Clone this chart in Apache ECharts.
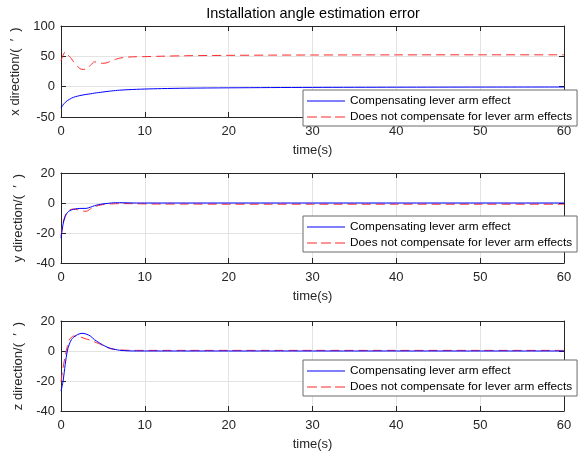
<!DOCTYPE html>
<html>
<head>
<meta charset="utf-8">
<script src="https://cdn.jsdelivr.net/npm/echarts@6/dist/echarts.min.js"></script>
<style>
html,body{margin:0;padding:0;background:#fff;}
#main{width:581px;height:457px;}
</style>
</head>
<body>
<div id="main"></div>
<script>
// time samples (s)
var timeS = [0, 0.25, 0.5, 0.75, 1, 1.25, 1.5, 2, 2.5, 3, 3.5, 4, 4.5, 5, 5.5, 6, 6.5, 7, 8, 9, 10, 12, 15, 20, 25, 30, 40, 50, 60];

// x direction
var xComp   = [-35, -30, -26, -23, -21, -19, -17.5, -15.5, -14, -12.8, -11.8, -10.6, -9.7, -8.8, -7.9, -7.1, -6.4, -5.8, -5.0, -4.4, -3.9, -3.2, -2.5, -1.9, -1.5, -1.2, -0.9, -0.7, -0.6];
var xNoComp = [43, 52, 57, 53, 50, 46, 41, 33, 28.5, 29, 35, 41, 39.5, 38.5, 39.5, 42.5, 45, 47, 48.8, 49.3, 49.5, 50.2, 51, 51.6, 52, 52.2, 52.4, 52.5, 52.5];

// y direction
var yComp   = [-23.5, -14, -9, -6.5, -5.3, -4.6, -4.2, -3.7, -3.6, -3.6, -2.8, -1.8, -1.1, -0.6, -0.3, 0, 0.2, 0.2, 0.1, 0, 0, 0, 0, 0, 0, 0, 0, 0, 0];
var yNoComp = [-22, -13, -8.5, -6, -4.8, -4.2, -4, -4.5, -5.3, -5.5, -4, -2.5, -1.6, -1.1, -0.8, -0.6, -0.5, -0.4, -0.4, -0.5, -0.6, -0.7, -0.7, -0.8, -0.8, -0.8, -0.8, -0.8, -0.8];

// z direction
var zComp   = [-26.7, -20, -9, 0, 4.7, 7.6, 9.2, 11, 11.8, 11.3, 10, 7.5, 5.7, 4, 2.6, 1.6, 1, 0.5, 0.1, 0, 0, 0, 0, 0, 0, 0, 0, 0, 0];
var zNoComp = [-20.5, -11, -3.5, 3, 7.5, 9.2, 10, 9.7, 9, 8, 7.2, 6, 5, 3.6, 2.4, 1.4, 1, 0.7, 0.5, 0.4, 0.4, 0.4, 0.4, 0.4, 0.4, 0.4, 0.4, 0.4, 0.4];

var xTicks = {min: 0, max: 60, interval: 10};
var yRanges = [{min: -50, max: 100, interval: 50}, {min: -40, max: 20, interval: 20}, {min: -40, max: 20, interval: 20}];
var yNames = ['x direction/(  \u2032  )', 'y direction/(  \u2032  )', 'z direction/(  \u2032  )'];
var nameComp = 'Compensating lever arm effect';
var nameNoComp = 'Does not compensate for lever arm effects';
var titleText = 'Installation angle estimation error';

var FONT = "'Liberation Sans', Arial, Helvetica, sans-serif";
var AX = '#262626';
var GRIDC = '#e3e3e3';
var ICON_SOLID = 'path://M0,0h38v1h-38z';
var ICON_DASH = 'path://M0,0h10v1h-10z M14,0h10v1h-10z M28,0h10v1h-10z';

function zip(t, v) { return t.map(function (x, i) { return [x, v[i]]; }); }

var grids = [
  {left: 61, right: 17, top: 26, height: 91},
  {left: 61, right: 17, top: 173, height: 90},
  {left: 61, right: 17, top: 321, height: 90}
];
var legendTops = [90, 216, 360];
var comp = [xComp, yComp, zComp];
var noComp = [xNoComp, yNoComp, zNoComp];

var xAxes = [], yAxes = [], series = [], legends = [];
grids.forEach(function (g, i) {
  xAxes.push({
    type: 'value', gridIndex: i, position: 'bottom', min: xTicks.min, max: xTicks.max, interval: xTicks.interval,
    axisLine: {show: true, onZero: false, lineStyle: {color: AX, width: 1}},
    axisTick: {show: true, inside: true, length: 5, lineStyle: {color: AX}},
    axisLabel: {margin: 8, fontSize: 13, color: AX, fontFamily: FONT},
    splitLine: {show: true, lineStyle: {color: GRIDC, width: 1}},
    name: 'time(s)', nameLocation: 'middle', nameGap: 27,
    nameTextStyle: {fontSize: 13, color: AX, fontFamily: FONT}
  });
  xAxes.push({
    type: 'value', gridIndex: i, position: 'top', min: xTicks.min, max: xTicks.max, interval: xTicks.interval,
    axisLine: {show: true, onZero: false, lineStyle: {color: AX, width: 1}},
    axisTick: {show: true, inside: true, length: 5, lineStyle: {color: AX}},
    axisLabel: {show: false}, splitLine: {show: false}
  });
  var r = yRanges[i];
  yAxes.push({
    type: 'value', gridIndex: i, position: 'left', min: r.min, max: r.max, interval: r.interval,
    axisLine: {show: true, onZero: false, lineStyle: {color: AX, width: 1}},
    axisTick: {show: true, inside: true, length: 5, lineStyle: {color: AX}},
    axisLabel: {margin: 6, fontSize: 13, color: AX, fontFamily: FONT},
    splitLine: {show: true, lineStyle: {color: GRIDC, width: 1}},
    name: yNames[i], nameLocation: 'middle', nameGap: 32, nameRotate: 90,
    nameTextStyle: {fontSize: 13, color: AX, fontFamily: FONT}
  });
  yAxes.push({
    type: 'value', gridIndex: i, position: 'right', min: r.min, max: r.max, interval: r.interval,
    axisLine: {show: true, onZero: false, lineStyle: {color: AX, width: 1}},
    axisTick: {show: true, inside: true, length: 5, lineStyle: {color: AX}},
    axisLabel: {show: false}, splitLine: {show: false}
  });
  series.push({
    type: 'line', name: nameNoComp, xAxisIndex: 2 * i, yAxisIndex: 2 * i,
    data: zip(timeS, noComp[i]), symbol: 'none', smooth: 0.3, z: 2,
    lineStyle: {color: '#ff2a2a', width: 1, type: [9, 5]}, itemStyle: {color: '#ff2a2a'}
  });
  series.push({
    type: 'line', name: nameComp, xAxisIndex: 2 * i, yAxisIndex: 2 * i,
    data: zip(timeS, comp[i]), symbol: 'none', smooth: 0.3, z: 3,
    lineStyle: {color: '#0000ff', width: 1}, itemStyle: {color: '#0000ff'}
  });
  legends.push({
    data: [{name: nameComp, icon: ICON_SOLID}, {name: nameNoComp, icon: ICON_DASH}],
    orient: 'vertical', left: 303, top: legendTops[i],
    itemWidth: 38, itemHeight: 1.6, itemGap: 4, padding: [5, 5, 3, 4],
    backgroundColor: '#ffffff', borderColor: '#6a6a6a', borderWidth: 1, borderRadius: 0,
    selectedMode: false,
    textStyle: {fontSize: 11.8, color: '#000', fontFamily: FONT}
  });
});

var chart = echarts.init(document.getElementById('main'), null, {renderer: 'canvas'});
chart.setOption({
  animation: false,
  backgroundColor: '#ffffff',
  title: {text: titleText, left: 313, textAlign: 'center', top: 6, padding: 0,
          textStyle: {fontSize: 14.5, fontWeight: 'normal', color: '#000', fontFamily: FONT}},
  grid: grids,
  xAxis: xAxes,
  yAxis: yAxes,
  legend: legends,
  series: series
});
</script>
</body>
</html>
